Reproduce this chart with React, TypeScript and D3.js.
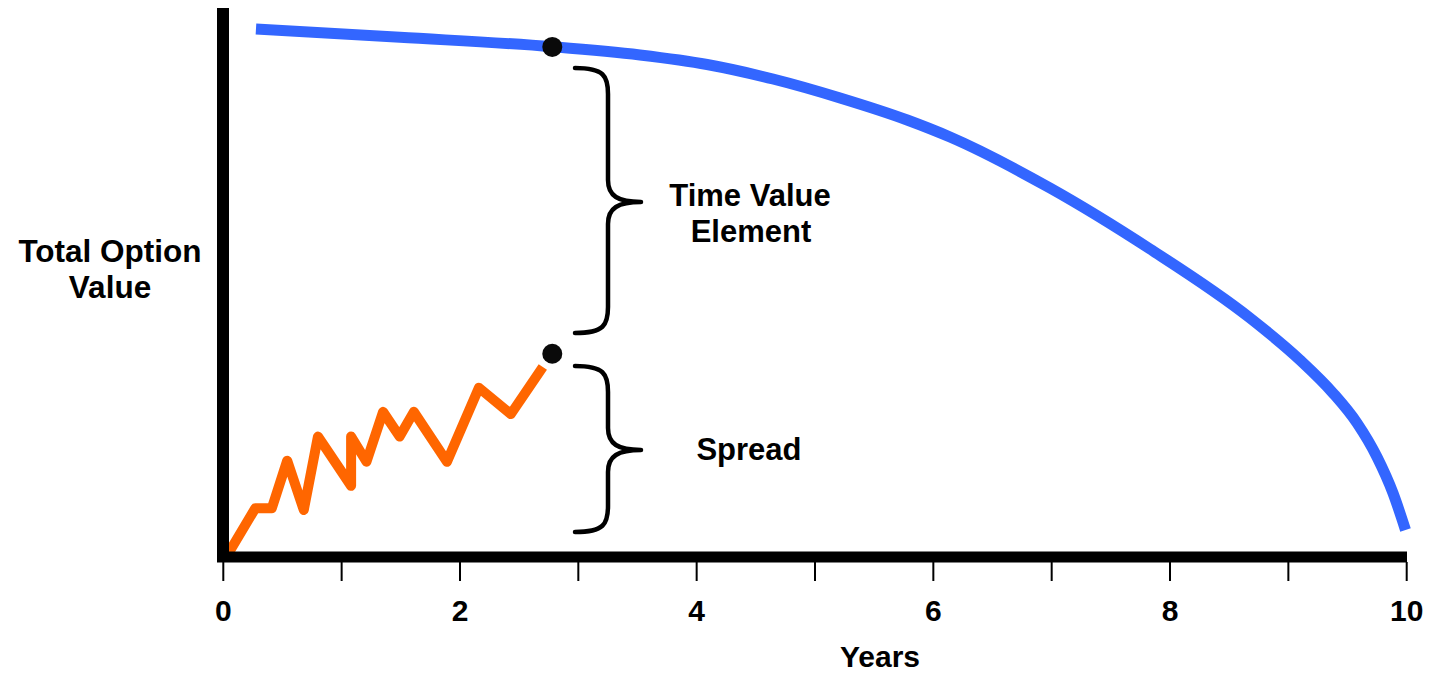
import React from "react";
import * as d3 from "d3";

// Data
const xTicks = [0, 1, 2, 3, 4, 5, 6, 7, 8, 9, 10];
const xTickLabels = ["0", "", "2", "", "4", "", "6", "", "8", "", "10"];

const spreadYears = [0.03, 0.27, 0.41, 0.54, 0.68, 0.8, 1.08, 1.08, 1.21, 1.35, 1.49, 1.61, 1.89, 2.16, 2.43, 2.7];
const spreadValues = [0, 8.7, 8.7, 17.4, 8.4, 21.8, 12.8, 21.8, 17.2, 26.3, 21.8, 26.3, 17.2, 30.7, 25.9, 34.5];

const totalYears = [0.276, 1.493, 2.778, 3.521, 4.088, 4.645, 5.212, 5.779, 6.141, 6.986, 7.831, 8.676, 9.098, 9.377, 9.58, 9.749, 9.884, 9.99];
const totalValues = [96.17, 94.65, 92.94, 91.42, 89.69, 87.04, 83.58, 79.56, 76.46, 67.15, 56.02, 43.43, 35.77, 29.74, 24.27, 18.07, 11.5, 4.74];

const markerYear = 2.78;
const markerTotal = 92.9;
const markerSpread = 36.9;

const FONT = "'Liberation Sans', Arial, Helvetica, sans-serif";

export default function App() {
  const W = 1430;
  const H = 673;
  const x = d3.scaleLinear().domain([0, 10]).range([223.3, 1406.7]);
  const y = d3.scaleLinear().domain([0, 100]).range([556, 8]);

  const spreadData = spreadYears.map((t, i) => [t, spreadValues[i]] as [number, number]);
  const totalData = totalYears.map((t, i) => [t, totalValues[i]] as [number, number]);

  const lineStraight = d3
    .line<[number, number]>()
    .x((d) => x(d[0]))
    .y((d) => y(d[1]));
  const lineSmooth = d3
    .line<[number, number]>()
    .x((d) => x(d[0]))
    .y((d) => y(d[1]))
    .curve(d3.curveMonotoneX);

  const brace = (x0: number, xs: number, xp: number, y0: number, ym: number, y1: number) => {
    const p = d3.path();
    p.moveTo(x0, y0);
    p.bezierCurveTo(xs - 4, y0, xs, y0 + 8, xs, y0 + 26);
    p.lineTo(xs, ym - 22);
    p.bezierCurveTo(xs, ym - 6, xs + 10, ym, xp, ym);
    p.bezierCurveTo(xs + 10, ym, xs, ym + 6, xs, ym + 22);
    p.lineTo(xs, y1 - 26);
    p.bezierCurveTo(xs, y1 - 8, xs - 4, y1, x0, y1);
    return p.toString();
  };

  const bx = x(markerYear);

  return (
    <svg
      width={W}
      height={H}
      style={{ position: "absolute", left: 0, top: 0, background: "#fff" }}
      fontFamily={FONT}
      fontWeight="bold"
    >
      <rect width={W} height={H} fill="#fff" />
      {/* spread line */}
      <path
        d={lineStraight(spreadData) || ""}
        fill="none"
        stroke="#FF6600"
        strokeWidth={10}
        strokeLinejoin="round"
        strokeLinecap="butt"
      />
      {/* total value curve */}
      <path
        d={lineSmooth(totalData) || ""}
        fill="none"
        stroke="#3366FF"
        strokeWidth={11}
        strokeLinecap="butt"
      />
      {/* axes */}
      <line x1={223} x2={223} y1={8} y2={562} stroke="#000" strokeWidth={12} />
      <line x1={217} x2={1407} y1={557} y2={557} stroke="#000" strokeWidth={11} />
      {xTicks.map((t, i) => (
        <g key={t}>
          <line x1={x(t)} x2={x(t)} y1={562} y2={581} stroke="#000" strokeWidth={2} />
          {xTickLabels[i] && (
            <text x={x(t)} y={621} textAnchor="middle" fontSize={30}>
              {xTickLabels[i]}
            </text>
          )}
        </g>
      ))}
      <text x={880} y={667} textAnchor="middle" fontSize={30}>
        Years
      </text>
      <text x={110} y={262} textAnchor="middle" fontSize={31.5}>
        Total Option
      </text>
      <text x={110} y={298} textAnchor="middle" fontSize={31.5}>
        Value
      </text>
      {/* markers */}
      <circle cx={bx} cy={y(markerTotal)} r={10} fill="#0a0a0a" />
      <circle cx={bx} cy={y(markerSpread)} r={10} fill="#0a0a0a" />
      {/* braces */}
      <path
        d={brace(575, 608, 641, 68, 202, 333)}
        fill="none"
        stroke="#000"
        strokeWidth={4.5}
        strokeLinecap="round"
        strokeLinejoin="round"
      />
      <path
        d={brace(575, 608, 641, 366, 450, 532)}
        fill="none"
        stroke="#000"
        strokeWidth={4.5}
        strokeLinecap="round"
        strokeLinejoin="round"
      />
      <text x={750} y={206} textAnchor="middle" fontSize={31}>
        Time Value
      </text>
      <text x={751} y={242} textAnchor="middle" fontSize={31}>
        Element
      </text>
      <text x={749} y={460} textAnchor="middle" fontSize={31}>
        Spread
      </text>
    </svg>
  );
}
